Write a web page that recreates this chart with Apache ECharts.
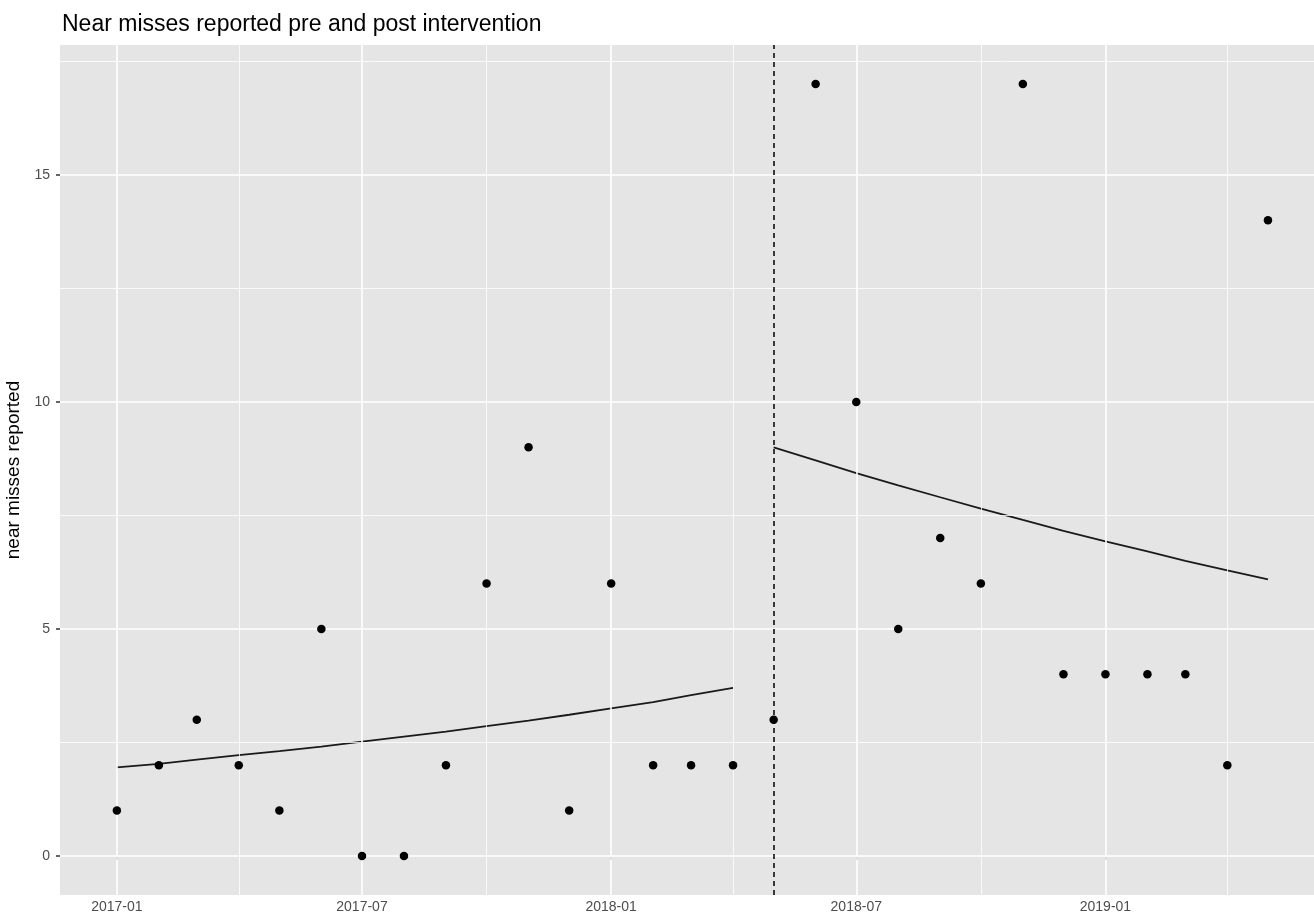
<!DOCTYPE html>
<html>
<head>
<meta charset="utf-8">
<script src="https://cdn.jsdelivr.net/npm/echarts@6/dist/echarts.min.js"></script>
<style>html,body{margin:0;padding:0;background:#fff;}#c{width:1314px;height:917px;}</style>
</head>
<body>
<div id="c"></div>
<script>
// ---- data ----
const months = ['2017-01','2017-02','2017-03','2017-04','2017-05','2017-06','2017-07','2017-08','2017-09','2017-10','2017-11','2017-12',
  '2018-01','2018-02','2018-03','2018-04','2018-05','2018-06','2018-07','2018-08','2018-09','2018-10','2018-11','2018-12',
  '2019-01','2019-02','2019-03','2019-04','2019-05'];
const nearMisses = [1,2,3,2,1,5,0,0,2,6,9,1, 6,2,2,2,3,17,10,5,7,6,17,4, 4,4,4,2,14];
const preMonths = months.slice(0,16);
const preFit = [1.95,2.03,2.12,2.22,2.31,2.41,2.52,2.63,2.74,2.86,2.98,3.11,3.25,3.39,3.54,3.70];
const postMonths = months.slice(16);
const postFit = [9.0,8.71,8.43,8.16,7.90,7.65,7.40,7.16,6.93,6.71,6.50,6.29,6.09];
const interventionMonth = '2018-05';
const xTickMonths = ['2017-01','2017-07','2018-01','2018-07','2019-01'];
const xMinorMonths = ['2017-04','2017-10','2018-04','2018-10','2019-04'];
const yTicks = [0,5,10,15];
const yMinor = [2.5,7.5,12.5,17.5];
const xRange = ['2016-11-20','2019-06-04'];
const yRange = [-0.86,17.86];

// ---- helpers ----
function t(s){const p=s.split('-').map(Number);return Date.UTC(p[0],p[1]-1,p[2]||1);}
function fmt(v){const d=new Date(v);const m=d.getUTCMonth()+1;return d.getUTCFullYear()+'-'+(m<10?'0':'')+m;}

const font = 'Liberation Sans, Arial, Helvetica, sans-serif';
const gridLines = [];
xTickMonths.forEach(m=>gridLines.push({xAxis:t(m),lineStyle:{color:'#ffffff',width:1.6,type:'solid'}}));
xMinorMonths.forEach(m=>gridLines.push({xAxis:t(m),lineStyle:{color:'#ffffff',width:0.8,type:'solid'}}));
yTicks.forEach(v=>gridLines.push({yAxis:v,lineStyle:{color:'#ffffff',width:1.6,type:'solid'}}));
yMinor.forEach(v=>gridLines.push({yAxis:v,lineStyle:{color:'#ffffff',width:0.8,type:'solid'}}));

const chart = echarts.init(document.getElementById('c'), null, {renderer:'canvas'});
chart.setOption({
  animation:false,
  backgroundColor:'#ffffff',
  title:{text:'Near misses reported pre and post intervention',left:57,top:8,
    textStyle:{fontFamily:font,fontSize:23,fontWeight:'normal',color:'#000000'}},
  grid:{left:60,right:0,top:45,bottom:22,show:true,backgroundColor:'#e5e5e5',borderWidth:0,
    containLabel:false,outerBoundsMode:'none'},
  xAxis:{type:'value',min:t(xRange[0]),max:t(xRange[1]),scale:true,
    axisLine:{show:false},
    axisTick:{show:true,length:4,inside:false,customValues:xTickMonths.map(t),lineStyle:{color:'#333333',width:1.5}},
    axisLabel:{customValues:xTickMonths.map(t),formatter:fmt,color:'#4d4d4d',fontSize:14,fontFamily:font,margin:5},
    splitLine:{show:false}},
  yAxis:{type:'value',min:yRange[0],max:yRange[1],
    name:'near misses reported',nameLocation:'middle',nameGap:31,nameRotate:90,
    nameTextStyle:{fontFamily:font,fontSize:19,color:'#000000'},
    axisLine:{show:false},
    axisTick:{show:true,length:4,customValues:yTicks,lineStyle:{color:'#333333',width:1.5}},
    axisLabel:{customValues:yTicks,color:'#4d4d4d',fontSize:14,fontFamily:font,margin:10},
    splitLine:{show:false}},
  series:[
    {type:'line',data:[],silent:true,z:1,
     markLine:{silent:true,symbol:'none',label:{show:false},animation:false,data:gridLines}},
    {type:'line',data:[],silent:true,z:3,
     markLine:{silent:true,symbol:'none',label:{show:false},animation:false,
       data:[{xAxis:t(interventionMonth),lineStyle:{color:'#000000',width:1.5,type:[5,4]}}]}},
    {type:'line',name:'pre fit',data:preMonths.map((m,i)=>[t(m),preFit[i]]),showSymbol:false,smooth:false,z:4,
     lineStyle:{color:'#1a1a1a',width:1.8}},
    {type:'line',name:'post fit',data:postMonths.map((m,i)=>[t(m),postFit[i]]),showSymbol:false,smooth:false,z:4,
     lineStyle:{color:'#1a1a1a',width:1.8}},
    {type:'scatter',name:'near misses',data:months.map((m,i)=>[t(m),nearMisses[i]]),symbol:'circle',symbolSize:8.5,z:5,
     itemStyle:{color:'#000000',opacity:1}}
  ]
});
</script>
</body>
</html>
